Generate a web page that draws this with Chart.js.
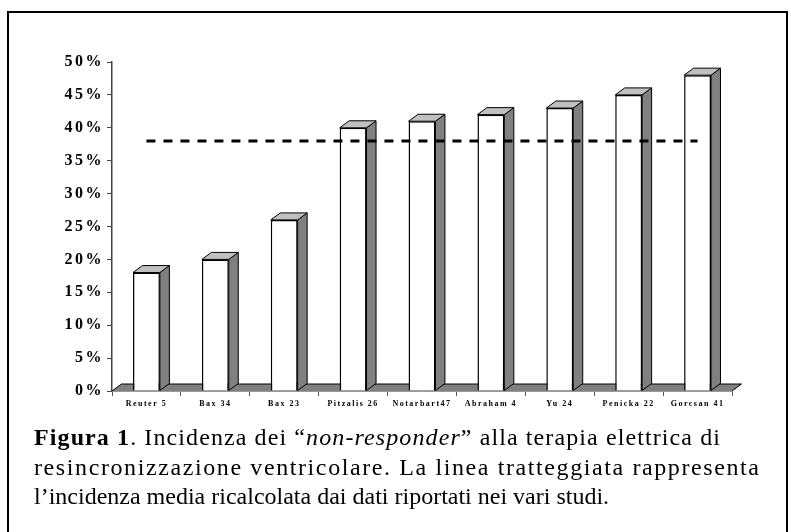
<!DOCTYPE html>
<html>
<head>
<meta charset="utf-8">
<script src="https://cdn.jsdelivr.net/npm/chart.js@4"></script>
<style>
    body { margin: 0; background: #fff; }
    #frame {
        position: absolute; left: 7px; top: 11px; width: 777px; height: 560px;
        border: 2px solid #000;
    }
    #wrap { position: absolute; left: 0; top: 0; width: 791px; height: 430px; }
    #caption {
        position: absolute; left: 34px; top: 423px;
        font-family: "Liberation Serif", "Times New Roman", serif;
        font-size: 24px; line-height: 29.5px; color: #000; white-space: nowrap;
    }
    #caption span { display: block; }
    #caption .l1 { letter-spacing: 1.1px; }
    #caption .l2 { letter-spacing: 1.6px; }
</style>
</head>
<body>
<div id="frame"></div>
<div id="wrap"><canvas id="myChart" width="791" height="430"></canvas></div>
<div id="caption"><span class="l1"><b>Figura 1</b>. Incidenza dei “<i>non-responder</i>” alla terapia elettrica di</span><span class="l2">resincronizzazione ventricolare. La linea tratteggiata rappresenta</span><span>l’incidenza media ricalcolata dai dati riportati nei vari studi.</span></div>
<script>
const studies = ['Reuter 5', 'Bax 34', 'Bax 23', 'Pitzalis 26', 'Notarbart47', 'Abraham 4', 'Yu 24', 'Penicka 22', 'Gorcsan 41'];
const nonResponders = [18, 20, 26, 40, 41, 42, 43, 45, 48];
const meanIncidence = [38, 38, 38, 38, 38, 38, 38, 38, 38];
const yTicks = [0, 5, 10, 15, 20, 25, 30, 35, 40, 45, 50];

// excel-like 3D look: floor + side/top faces of each column
const depthX = 9.5, depthY = 7;
const bar3d = {
    id: 'bar3d',
    beforeDraw(chart) {
        const ctx = chart.ctx;
        ctx.letterSpacing = '1.5px';
        // wider tracking for the y labels only
        const y = chart.scales.y;
        if (!y._spaced) {
            const orig = y.drawLabels;
            y.drawLabels = function (area) {
                ctx.letterSpacing = '2.5px';
                orig.call(this, area);
                ctx.letterSpacing = '1.5px';
            };
            y._spaced = true;
        }
    },
    beforeDatasetsDraw(chart) {
        const ctx = chart.ctx;
        ctx.letterSpacing = '0px';
        const x = chart.scales.x, y = chart.scales.y;
        const base = y.getPixelForValue(0);
        ctx.save();
        ctx.beginPath();
        ctx.moveTo(x.left, base);
        ctx.lineTo(x.left + depthX, base - depthY);
        ctx.lineTo(x.right + depthX, base - depthY);
        ctx.lineTo(x.right, base);
        ctx.closePath();
        ctx.fillStyle = '#808080';
        ctx.fill();
        ctx.strokeStyle = '#000';
        ctx.lineWidth = 1;
        ctx.beginPath();
        ctx.moveTo(x.left, base);
        ctx.lineTo(x.left + depthX, base - depthY);
        ctx.lineTo(x.right + depthX, base - depthY);
        ctx.lineTo(x.right, base);
        ctx.stroke();
        ctx.restore();
    },
    afterDatasetDraw(chart, args) {
        if (args.index !== 0) return;
        const ctx = chart.ctx;
        ctx.save();
        ctx.strokeStyle = '#000';
        ctx.lineWidth = 1;
        args.meta.data.forEach(function (bar) {
            const p = bar.getProps(['x', 'y', 'base', 'width'], true);
            const l = p.x - p.width / 2, r = p.x + p.width / 2;
            // side
            ctx.beginPath();
            ctx.moveTo(r, p.y);
            ctx.lineTo(r + depthX, p.y - depthY);
            ctx.lineTo(r + depthX, p.base - depthY);
            ctx.lineTo(r, p.base);
            ctx.closePath();
            ctx.fillStyle = '#808080';
            ctx.fill();
            ctx.stroke();
            // top
            ctx.beginPath();
            ctx.moveTo(l, p.y);
            ctx.lineTo(l + depthX, p.y - depthY);
            ctx.lineTo(r + depthX, p.y - depthY);
            ctx.lineTo(r, p.y);
            ctx.closePath();
            ctx.fillStyle = '#c0c0c0';
            ctx.fill();
            ctx.stroke();
        });
        ctx.restore();
    }
};

const ctx = document.getElementById('myChart').getContext('2d');
new Chart(ctx, {
    type: 'bar',
    data: {
        labels: studies,
        datasets: [{
            label: 'Non-responder',
            data: nonResponders,
            backgroundColor: '#fff',
            borderColor: '#000',
            borderWidth: 1.5,
            barPercentage: 0.39,
            categoryPercentage: 1,
            order: 1
        }, {
            type: 'line',
            label: 'Media',
            data: meanIncidence,
            borderColor: '#000',
            borderWidth: 3,
            borderDash: [9, 8],
            pointRadius: 0,
            fill: false,
            order: 0
        }]
    },
    options: {
        responsive: false,
        animation: false,
        layout: {
            padding: { left: 0, top: 62, right: 59, bottom: 0 }
        },
        plugins: {
            legend: { display: false },
            tooltip: { enabled: false }
        },
        scales: {
            y: {
                min: 0,
                max: 50,
                afterFit: function (scale) { scale.width = 112; },
                afterBuildTicks: function (scale) {
                    scale.ticks = yTicks.map(function (v) { return { value: v }; });
                },
                border: { display: true, color: '#444', width: 1.5 },
                grid: { drawOnChartArea: false, drawTicks: true, tickLength: 5, color: '#444' },
                ticks: {
                    padding: 3,
                    color: '#000',
                    font: { family: 'Liberation Serif', size: 16, weight: 'bold' },
                    callback: function (value) { return value + '%'; }
                }
            },
            x: {
                afterFit: function (scale) { scale.height = 39; },
                border: { display: true, color: '#999', width: 1 },
                grid: { drawOnChartArea: false, drawTicks: true, tickLength: 5, color: '#555', offset: true },
                ticks: {
                    padding: 3,
                    color: '#000',
                    maxRotation: 0,
                    autoSkip: false,
                    font: { family: 'Liberation Serif', size: 8, weight: 'bold' }
                }
            }
        }
    },
    plugins: [bar3d]
});
</script>
</body>
</html>
